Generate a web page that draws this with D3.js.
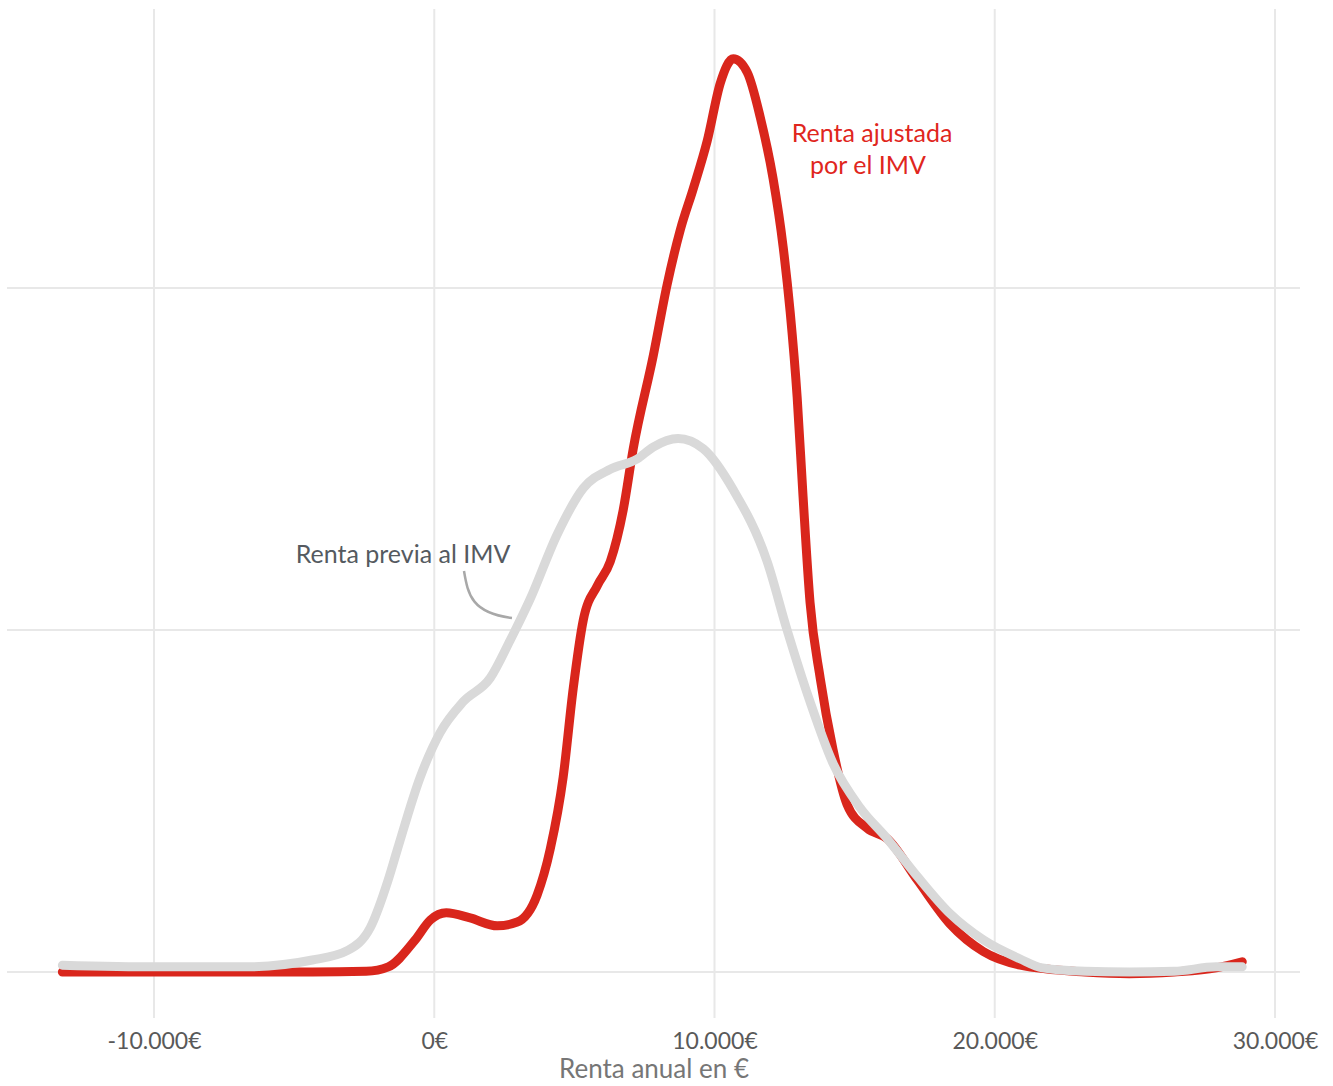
<!DOCTYPE html>
<html>
<head>
<meta charset="utf-8">
<script src="https://cdn.jsdelivr.net/npm/d3@7"></script>
<style>
  body { margin: 0; background: #fff; }
  svg { display: block; }
</style>
</head>
<body>
<svg width="1333" height="1086"></svg>
<script>
// renta anual (euros) y densidad relativa
var rentaAjustadaX = [-13270, -9100, -4350, -2430, -1640, -680, -140, 430, 1280, 2250, 2960, 3670, 4140, 4600, 4960, 5320, 5820, 6280, 6740, 7100, 7810, 8310, 8780, 9240, 9740, 10210, 10670, 11170, 11630, 12090, 12450, 12700, 12950, 13160, 13410, 13770, 14230, 14730, 15450, 16160, 17230, 18410, 19590, 20910, 23220, 24800, 26400, 27900, 28830];
var rentaAjustadaY = [0, 0, 0, 0.002, 0.015, 0.094, 0.152, 0.173, 0.158, 0.135, 0.146, 0.225, 0.36, 0.57, 0.83, 1.03, 1.13, 1.2, 1.35, 1.53, 1.8, 2.01, 2.17, 2.29, 2.43, 2.6, 2.67, 2.63, 2.5, 2.32, 2.12, 1.93, 1.68, 1.39, 1.08, 0.86, 0.65, 0.49, 0.42, 0.39, 0.27, 0.14, 0.06, 0.02, 0, -0.005, 0, 0.012, 0.03];

var rentaPreviaX = [-13270, -9920, -6740, -4350, -3070, -2280, -1640, -1320, -500, 210, 1030, 2000, 2710, 3420, 4390, 5320, 6280, 7240, 7810, 8700, 9600, 10670, 11880, 12590, 13410, 14230, 15200, 16160, 17230, 18410, 19590, 20910, 21700, 23220, 24800, 26400, 27900, 28830];
var rentaPreviaY = [0.02, 0.015, 0.015, 0.035, 0.064, 0.13, 0.27, 0.357, 0.57, 0.7, 0.79, 0.86, 0.97, 1.09, 1.28, 1.415, 1.47, 1.5, 1.535, 1.56, 1.53, 1.41, 1.2, 1.0, 0.79, 0.61, 0.48, 0.39, 0.28, 0.17, 0.094, 0.038, 0.012, 0.002, 0, 0.002, 0.015, 0.015];

var xTicks = [-10000, 0, 10000, 20000, 30000];
var yTicks = [0, 1, 2];

var svg = d3.select("svg");

var x = d3.scaleLinear().domain([-10000, 30000]).range([154, 1275]);
var y = d3.scaleLinear().domain([0, 1]).range([972, 630]);

var fmt = function(d) {
    return d3.format(",")(d).replace(/,/g, ".").replace("\u2212", "-") + "€";
};

var font = "Lato, 'Open Sans', sans-serif";

// rejilla
svg.append("g").selectAll("line")
    .data(yTicks)
  .enter().append("line")
    .attr("x1", 7).attr("x2", 1300)
    .attr("y1", function(d) { return y(d); })
    .attr("y2", function(d) { return y(d); })
    .attr("stroke", "#e8e8e8")
    .attr("stroke-width", 2);

svg.append("g").selectAll("line")
    .data(xTicks)
  .enter().append("line")
    .attr("x1", function(d) { return x(d); })
    .attr("x2", function(d) { return x(d); })
    .attr("y1", 9).attr("y2", 1018)
    .attr("stroke", "#e8e8e8")
    .attr("stroke-width", 2);

// eje x
var xAxis = svg.append("g")
    .attr("transform", "translate(0,1018)")
    .call(d3.axisBottom(x).tickValues(xTicks).tickFormat(fmt).tickSize(0).tickPadding(15));
xAxis.select(".domain").remove();
xAxis.selectAll("text")
    .attr("fill", "#595959")
    .style("font-family", font)
    .style("font-size", "23px");

svg.append("text")
    .attr("x", 654)
    .attr("y", 1078)
    .attr("text-anchor", "middle")
    .attr("fill", "#767676")
    .style("font-family", font)
    .style("font-size", "26px")
    .text("Renta anual en €");

var line = d3.line()
    .x(function(d) { return x(d[0]); })
    .y(function(d) { return y(d[1]); })
    .curve(d3.curveMonotoneX);

svg.append("path")
    .datum(d3.zip(rentaAjustadaX, rentaAjustadaY))
    .attr("d", line)
    .attr("fill", "none")
    .attr("stroke", "#d9261c")
    .attr("stroke-width", 9)
    .attr("stroke-linecap", "round")
    .attr("stroke-linejoin", "round");

svg.append("path")
    .datum(d3.zip(rentaPreviaX, rentaPreviaY))
    .attr("d", line)
    .attr("fill", "none")
    .attr("stroke", "#d9d9d9")
    .attr("stroke-width", 9)
    .attr("stroke-linecap", "round")
    .attr("stroke-linejoin", "round");

// anotaciones
svg.append("text")
    .attr("x", 403).attr("y", 563)
    .attr("text-anchor", "middle")
    .attr("fill", "#555a60")
    .style("font-family", font)
    .style("font-size", "25px")
    .text("Renta previa al IMV");

svg.append("path")
    .attr("d", "M464,571 C468,595 472,613 512,618")
    .attr("fill", "none")
    .attr("stroke", "#a8a8a8")
    .attr("stroke-width", 2.5);

var lab = svg.append("text")
    .attr("text-anchor", "middle")
    .attr("fill", "#e0261d")
    .style("font-family", font)
    .style("font-size", "25px");
lab.append("tspan").attr("x", 872).attr("y", 142).text("Renta ajustada");
lab.append("tspan").attr("x", 868).attr("y", 174).text("por el IMV");
</script>
</body>
</html>
